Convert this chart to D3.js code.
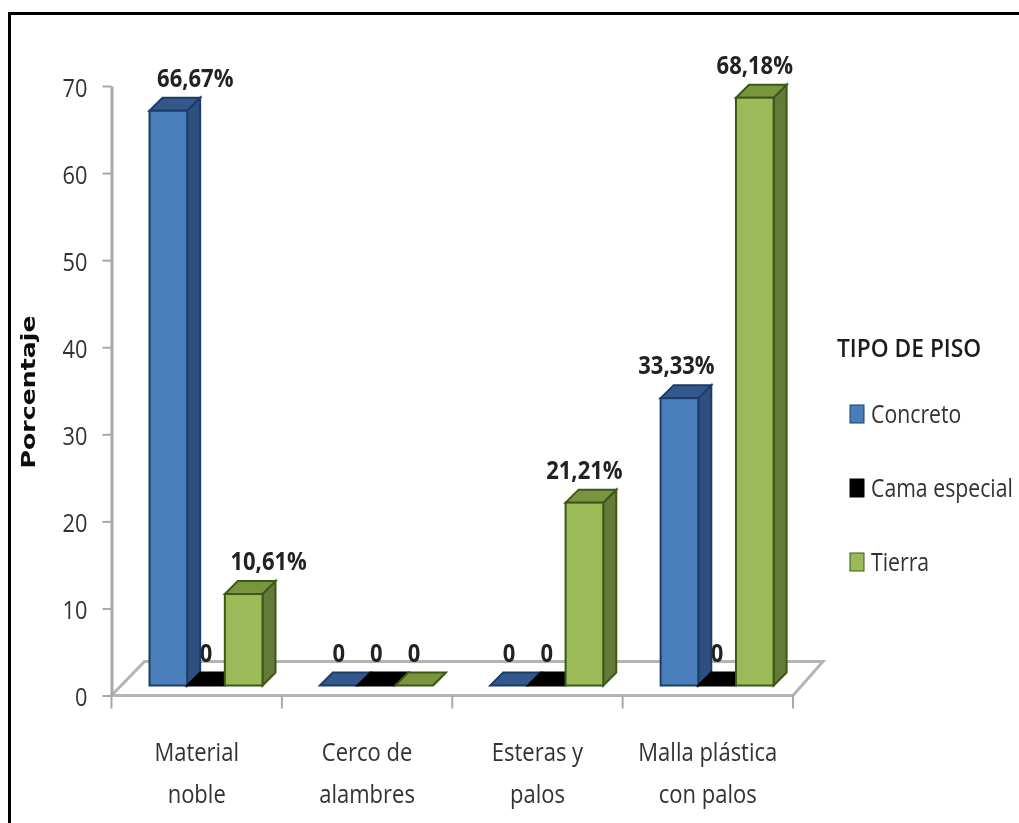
<!DOCTYPE html>
<html>
<head>
<meta charset="utf-8">
<script src="https://cdn.jsdelivr.net/npm/d3@7"></script>
<style>
    html, body { margin: 0; padding: 0; background: #fff; }
    svg { display: block; }
    text { font-family: "Open Sans", sans-serif; font-weight: 500; fill: #333; }
    .bar-label { font-weight: 700; font-size: 25px; fill: #222; text-anchor: middle; }
    .cat-label { font-size: 25px; text-anchor: middle; }
</style>
</head>
<body>
<div id="chart"></div>
<script>
const categories = [['Material', 'noble'], ['Cerco de', 'alambres'], ['Esteras y', 'palos'], ['Malla plástica', 'con palos']]
const seriesNames = ['Concreto', 'Cama especial', 'Tierra']
const concreto = [66.67, 0, 0, 33.33]
const camaEspecial = [0, 0, 0, 0]
const tierra = [10.61, 0, 21.21, 68.18]
const yTicks = [0, 10, 20, 30, 40, 50, 60, 70]
const legendTitle = 'TIPO DE PISO'
const yTitle = 'Porcentaje'

const concretoLabels = ['66,67%', '0', '0', '33,33%']
const camaLabels = ['0', '0', '0', '0']
const tierraLabels = ['10,61%', '0', '21,21%', '68,18%']

const colors = {
    'Concreto': { front: '#4a7ebb', side: '#2f5080', top: '#34588c', stroke: '#1d3c66' },
    'Cama especial': { front: '#000', side: '#000', top: '#000', stroke: '#000' },
    'Tierra': { front: '#9bbb59', side: '#637a38', top: '#7a9440', stroke: '#3d5818' }
}

const width = 1019, height = 823
const depthX = 13, depthY = 13

// no condensed font here, so squeeze the glyphs to the narrow look of the original
function squeeze(selection, k) {
    selection.each(function () {
        d3.select(this)
            .attr('textLength', this.getComputedTextLength() * k)
            .attr('lengthAdjust', 'spacingAndGlyphs')
    })
}

const svg = d3.select('#chart').append('svg')
    .attr('width', width)
    .attr('height', height)

svg.append('defs').append('filter')
    .attr('id', 'soft')
    .append('feGaussianBlur')
    .attr('stdDeviation', 0.6)

const g = svg.append('g').attr('filter', 'url(#soft)')

// outer frame, only top and left fit in the picture
g.append('path')
    .attr('d', `M9.5,${height}V13.5H${width}`)
    .attr('fill', 'none')
    .attr('stroke', '#000')
    .attr('stroke-width', 3)

const catKeys = categories.map(d => d.join(' '))
const x = d3.scaleBand().domain(catKeys).range([111.5, 793])
const inner = d3.scaleBand().domain(seriesNames).range([38, 151])

// axis scale sits on the front of the floor, bars stand a bit behind it
const yAxisScale = d3.scaleLinear().domain([0, 70]).range([695.5, 86])
const y = d3.scaleLinear().domain([0, 70]).range([685.5, 82])

// floor
const floorDx = 33, floorDy = 34
const floorLeft = x.range()[0], floorRight = x.range()[1], floorY = yAxisScale(0)
g.append('path')
    .attr('d', `M${floorLeft},${floorY}L${floorLeft + floorDx},${floorY - floorDy}H${floorRight + floorDx - 3}L${floorRight},${floorY}Z`)
    .attr('fill', '#fff')
    .attr('stroke', '#b4b4b4')
    .attr('stroke-width', 3)

// y axis
const yAxis = g.append('g')
    .attr('transform', `translate(${floorLeft},0)`)
    .call(d3.axisLeft(yAxisScale).tickValues(yTicks).tickSize(9).tickPadding(15).tickSizeOuter(0))
yAxis.select('.domain').attr('stroke', '#a8a8a8').attr('stroke-width', 3)
yAxis.selectAll('.tick line').attr('stroke', '#a8a8a8').attr('stroke-width', 2)
yAxis.selectAll('.tick text')
    .attr('font-size', 25)
    .attr('dy', '0.4em')
    .style('font-family', '"Open Sans", sans-serif')
    .attr('fill', '#333')
    .call(squeeze, 0.87)

// x ticks go on the band edges, not the centers
const xEdges = catKeys.map(c => x(c)).concat([x.range()[1]])
g.selectAll('.x-tick')
    .data(xEdges)
    .enter()
    .append('line')
    .attr('class', 'x-tick')
    .attr('x1', d => d)
    .attr('x2', d => d)
    .attr('y1', floorY)
    .attr('y2', floorY + 13)
    .attr('stroke', '#a8a8a8')
    .attr('stroke-width', 2)

categories.forEach(lines => {
    g.selectAll(null)
        .data(lines)
        .enter()
        .append('text')
        .attr('class', 'cat-label')
        .attr('x', x(lines.join(' ')) + x.bandwidth() / 2)
        .attr('y', (d, i) => 761 + i * 42)
        .text(d => d)
        .call(squeeze, 0.88)
})

const seriesValues = [concreto, camaEspecial, tierra]
const seriesLabels = [concretoLabels, camaLabels, tierraLabels]

// manual label shifts, the original labels were dragged around by hand
const labelShift = { 'Concreto|0': 27, 'Tierra|0': 25, 'Concreto|3': -3 }

var bars = []
seriesNames.forEach((name, s) => {
    catKeys.forEach((cat, c) => {
        bars.push({ name: name, cat: cat, value: seriesValues[s][c], label: seriesLabels[s][c], shift: labelShift[name + '|' + c] || 0 })
    })
})

// labels first so bar sides can cover the zeros like they do in the picture
g.selectAll('.bar-label')
    .data(bars.filter(d => d.label))
    .enter()
    .append('text')
    .attr('class', 'bar-label')
    .attr('x', d => x(d.cat) + inner(d.name) + inner.bandwidth() / 2 + d.shift)
    .attr('y', d => y(d.value) - 24)
    .text(d => d.label)
    .call(squeeze, 0.88)

const bw = inner.bandwidth()
const barG = g.selectAll('.bar')
    .data(bars)
    .enter()
    .append('g')
    .attr('class', 'bar')
    .attr('transform', d => `translate(${x(d.cat) + inner(d.name)},0)`)

barG.append('path')
    .attr('d', d => `M${bw},${y(d.value)}l${depthX},${-depthY}V${y(0) - depthY}L${bw},${y(0)}Z`)
    .attr('fill', d => colors[d.name].side)
    .attr('stroke', d => colors[d.name].stroke)
    .attr('stroke-width', 2)

barG.append('path')
    .attr('d', d => `M0,${y(d.value)}l${depthX},${-depthY}h${bw}l${-depthX},${depthY}Z`)
    .attr('fill', d => colors[d.name].top)
    .attr('stroke', d => colors[d.name].stroke)
    .attr('stroke-width', 2)

barG.filter(d => d.value > 0).append('rect')
    .attr('width', bw)
    .attr('y', d => y(d.value))
    .attr('height', d => y(0) - y(d.value))
    .attr('fill', d => colors[d.name].front)
    .attr('stroke', d => colors[d.name].stroke)
    .attr('stroke-width', 2)

// y title
g.append('text')
    .attr('transform', 'translate(35,392) rotate(-90)')
    .attr('text-anchor', 'middle')
    .attr('font-size', 19)
    .attr('font-weight', 700)
    .attr('textLength', 153)
    .attr('lengthAdjust', 'spacingAndGlyphs')
    .style('font-family', '"DejaVu Sans", sans-serif')
    .style('font-weight', 700)
    .style('fill', '#111')
    .text(yTitle)

// legend
g.append('text')
    .attr('x', 837)
    .attr('y', 357)
    .attr('font-size', 25)
    .style('font-weight', 600)
    .style('fill', '#1c1c1c')
    .text(legendTitle)
    .call(squeeze, 0.91)

const legendY = d3.scalePoint().domain(seriesNames).range([414, 562])
const legend = g.selectAll('.legend')
    .data(seriesNames)
    .enter()
    .append('g')
    .attr('class', 'legend')
    .attr('transform', d => `translate(850,${legendY(d)})`)

legend.append('rect')
    .attr('y', -9)
    .attr('width', 14)
    .attr('height', 18)
    .attr('fill', d => colors[d].front)
    .attr('stroke', d => colors[d].stroke)

legend.append('text')
    .attr('x', 21)
    .attr('y', 9)
    .attr('font-size', 25)
    .text(d => d)
    .call(squeeze, 0.85)
</script>
</body>
</html>
